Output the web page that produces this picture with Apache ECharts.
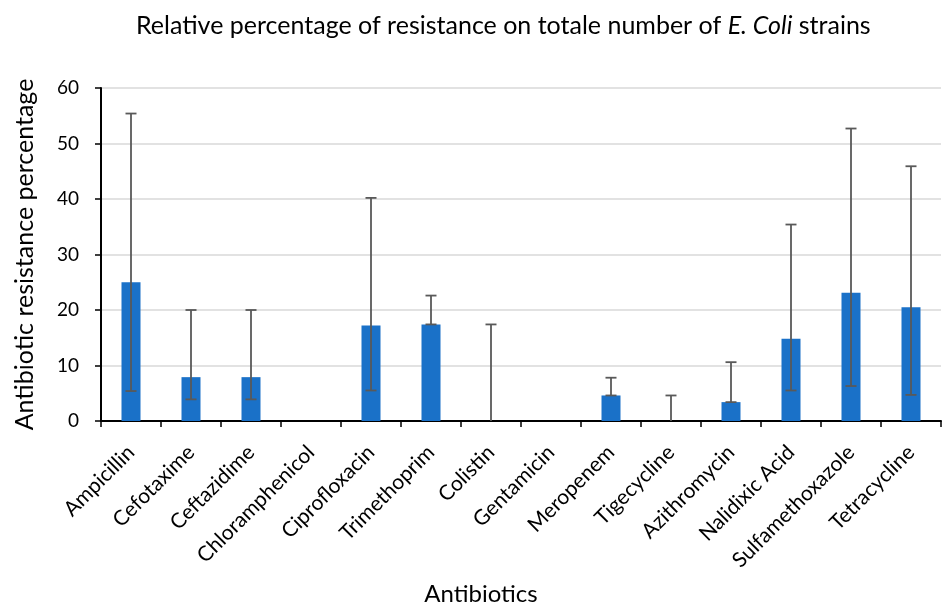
<!DOCTYPE html>
<html><head><meta charset="utf-8">
<script src="https://cdn.jsdelivr.net/npm/echarts@6/dist/echarts.min.js"></script>
<style>html,body{margin:0;padding:0;background:#fff}#c{width:945px;height:603px}</style>
</head><body><div id="c"></div>
<script>
const categories = ['Ampicillin','Cefotaxime','Ceftazidime','Chloramphenicol','Ciprofloxacin','Trimethoprim','Colistin','Gentamicin','Meropenem','Tigecycline','Azithromycin','Nalidixic Acid','Sulfamethoxazole','Tetracycline'];
const values   = [25.0, 7.9, 7.9, 0, 17.2, 17.4, 0, 0, 4.6, 0, 3.4, 14.8, 23.1, 20.5];
const errLow   = [5.4, 3.9, 3.9, null, 5.5, 17.4, 0, null, 4.6, 0, 3.4, 5.5, 6.3, 4.7];
const errHigh  = [55.4, 20, 20, null, 40.2, 22.6, 17.4, null, 7.8, 4.6, 10.6, 35.4, 52.7, 45.9];
const yTicks = {min: 0, max: 60, interval: 10};

const font = 'Lato';
const errData = categories.map((c, i) => [i, errLow[i], errHigh[i]]).filter(d => d[1] !== null);

const chart = echarts.init(document.getElementById('c'), null, {renderer: 'canvas'});
chart.setOption({
  animation: false,
  title: {
    left: 131, top: 8,
    text: '{a|Relative percentage of resistance on totale number of }{b|E. Coli}{a| strains}',
    textStyle: {
      fontWeight: 'normal',
      rich: {
        a: {fontFamily: font, fontSize: 25, color: '#000', fontWeight: 'normal'},
        b: {fontFamily: font, fontSize: 25, color: '#000', fontStyle: 'italic', fontWeight: 'normal'}
      }
    }
  },
  grid: {left: 101, right: 4, top: 88, bottom: 182, containLabel: false, outerBoundsMode: 'none'},
  xAxis: {
    type: 'category', data: categories,
    name: 'Antibiotics', nameLocation: 'middle', nameGap: 161,
    nameTextStyle: {fontFamily: font, fontSize: 24, color: '#000', padding: [0, 80, 0, 0]},
    axisLine: {lineStyle: {color: '#000', width: 2}},
    axisTick: {show: true, alignWithLabel: false, length: 6, lineStyle: {color: '#000', width: 1.5}},
    axisLabel: {rotate: 45, fontFamily: font, fontSize: 21, color: '#000', margin: 28, interval: 0}
  },
  yAxis: {
    type: 'value', min: yTicks.min, max: yTicks.max, interval: yTicks.interval,
    name: 'Antibiotic resistance percentage', nameLocation: 'middle', nameGap: 64,
    nameTextStyle: {fontFamily: font, fontSize: 25, color: '#000'},
    axisLine: {show: true, lineStyle: {color: '#000', width: 2}},
    axisTick: {show: true, length: 6, lineStyle: {color: '#000', width: 1.5}},
    axisLabel: {fontFamily: font, fontSize: 19, color: '#000', margin: 22},
    splitLine: {lineStyle: {color: '#d9d9d9', width: 1.5}}
  },
  series: [
    {
      type: 'bar', data: values, barWidth: 19,
      itemStyle: {color: '#1a71c8'}
    },
    {
      type: 'custom', data: errData, z: 10,
      renderItem: function (params, api) {
        const x = api.value(0);
        const lo = api.coord([x, api.value(1)]);
        const hi = api.coord([x, api.value(2)]);
        const hw = 5.5;
        const style = {stroke: '#595959', lineWidth: 1.8};
        const children = [
          {type: 'line', shape: {x1: lo[0], y1: lo[1], x2: hi[0], y2: hi[1]}, style: style},
          {type: 'line', shape: {x1: hi[0] - hw, y1: hi[1], x2: hi[0] + hw, y2: hi[1]}, style: style}
        ];
        if (api.value(1) > 0) {
          children.push({type: 'line', shape: {x1: lo[0] - hw, y1: lo[1], x2: lo[0] + hw, y2: lo[1]}, style: style});
        }
        return {type: 'group', children: children};
      }
    }
  ]
});
</script></body></html>
